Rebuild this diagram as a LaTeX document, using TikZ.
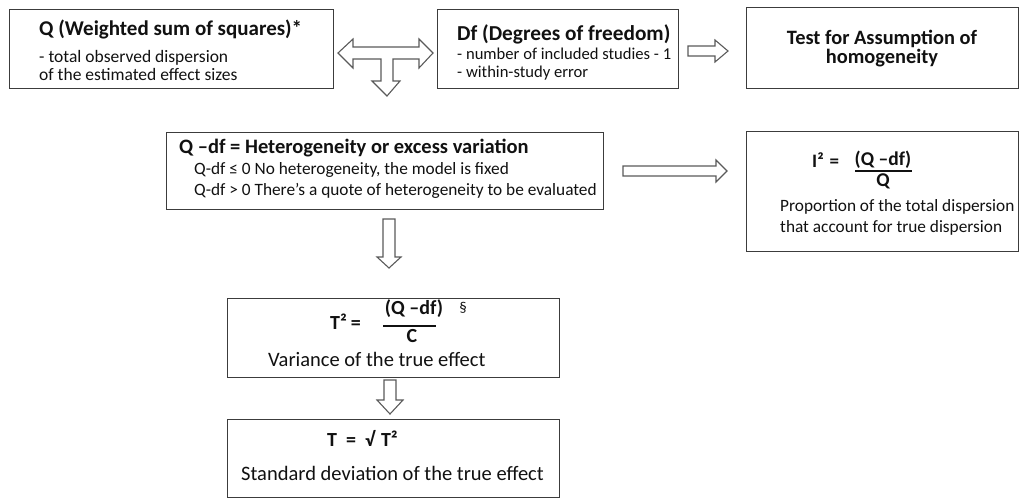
\documentclass[tikz,border=0pt]{standalone}
\usepackage{fontspec}
\setmainfont{Carlito}
\definecolor{boxgray}{HTML}{3C3C3C}
\definecolor{arrowgray}{HTML}{5A5A5A}
\definecolor{ink}{HTML}{111111}
\begin{document}
\begin{tikzpicture}[x=1pt,y=-1pt,
  box/.style={draw=boxgray, line width=1.2pt, fill=white, inner sep=0pt, anchor=north west},
  blockarrow/.style={draw=arrowgray, line width=1.1pt, fill=white, line join=miter},
  fracbar/.style={draw=ink, line width=1.4pt},
  ttl/.style={text=ink, font=\bfseries\fontsize{20}{22}\selectfont, inner sep=0pt, anchor=base west},
  ttlc/.style={ttl, anchor=base},
  txt/.style={text=ink, font=\fontsize{17.3}{19}\selectfont, inner sep=0pt, anchor=base west},
  bigtxt/.style={txt, font=\fontsize{20.5}{22}\selectfont},
]
\useasboundingbox (0,0) rectangle (1020,498);
\fill[white] (0,0) rectangle (1020,498);

% boxes
\node[box, minimum width=324pt, minimum height=79pt] (qbox) at (9,9) {};
\node[box, minimum width=241pt, minimum height=79pt] (dfbox) at (437,9) {};
\node[box, minimum width=272pt, minimum height=81pt] (testbox) at (746,7) {};
\node[box, minimum width=437pt, minimum height=77pt] (qdfbox) at (166,132) {};
\node[box, minimum width=272pt, minimum height=120pt] (ibox) at (746,131) {};
\node[box, minimum width=332pt, minimum height=79pt] (t2box) at (227,298) {};
\node[box, minimum width=332pt, minimum height=78pt] (tbox) at (227,419) {};

% Q box
\node[ttl, font=\bfseries\fontsize{21}{23}\selectfont] (qt) at (39,35) {Q (Weighted sum of squares)*};
\node[txt, font=\fontsize{17.5}{19}\selectfont] (q1) at (39,62.7) {- total observed dispersion};
\node[txt, font=\fontsize{17.5}{19}\selectfont] (q2) at (39,80) {of the estimated effect sizes};

% Df box
\node[ttl, font=\bfseries\fontsize{21.3}{23}\selectfont] (dft) at (457,40.5) {Df (Degrees of freedom)};
\node[txt, font=\fontsize{16.6}{18}\selectfont] (df1) at (457,59) {- number of included studies - 1};
\node[txt, font=\fontsize{16.6}{18}\selectfont] (df2) at (457,77) {- within-study error};

% Test box
\node[ttlc, font=\bfseries\fontsize{20.4}{22}\selectfont] (tt1) at (882,44) {Test for Assumption of};
\node[ttlc, font=\bfseries\fontsize{20.4}{22}\selectfont] (tt2) at (882,63) {homogeneity};

% Q-df box
\node[ttl, font=\bfseries\fontsize{20.5}{22}\selectfont] (qdft) at (179,153) {Q –df = Heterogeneity or excess variation};
\node[txt] (qdf1) at (194,174) {Q-df ≤ 0 No heterogeneity, the model is fixed};
\node[txt] (qdf2) at (194,195) {Q-df > 0 There’s a quote of heterogeneity to be evaluated};

% I^2 box
\node[ttl, font=\bfseries\fontsize{19}{21}\selectfont] (ieq) at (812,167) {I²\hspace{6pt}=};
\node[ttlc, font=\bfseries\fontsize{19.5}{21}\selectfont] (inum) at (883,165) {(Q –df)};
\draw[fracbar] (855,171) -- (912,171);
\node[ttlc, font=\bfseries\fontsize{19.5}{21}\selectfont] (iden) at (883,186) {Q};
\node[txt] (i1) at (780,211) {Proportion of the total dispersion};
\node[txt] (i2) at (780,232) {that account for true dispersion};

% T^2 box
\node[ttl] (t2eq) at (330,329) {T²\hspace{4pt}=};
\node[ttlc] (t2num) at (414,314) {(Q –df)};
\draw[fracbar] (383,326) -- (436,326);
\node[ttlc] (t2den) at (412,342) {C};
\node[txt, font=\fontsize{15}{17}\selectfont, anchor=base] (sect) at (463,312) {§};
\node[bigtxt] (t2l) at (268,366) {Variance of the true effect};

% T box
\node[ttl] (teq) at (327,446) {T\hspace{9pt}=\hspace{9pt}√\hspace{6pt}T²};
\node[bigtxt] (tl) at (241,480) {Standard deviation of the true effect};

% block arrows
\draw[blockarrow] (338,53) -- (353,39) -- (353,47) -- (419,47) -- (419,39) -- (433,53)
  -- (419,68) -- (419,59) -- (393,59) -- (393,81) -- (400,81) -- (387,96) -- (372,81)
  -- (381,81) -- (381,59) -- (353,59) -- (353,68) -- cycle;
\draw[blockarrow] (688,46) -- (715,46) -- (715,40) -- (728,51) -- (715,62) -- (715,56) -- (688,56) -- cycle;
\draw[blockarrow] (623,166) -- (716,166) -- (716,160) -- (727,171) -- (716,182) -- (716,176) -- (623,176) -- cycle;
\draw[blockarrow] (383,219) -- (395,219) -- (395,257) -- (401,257) -- (389,268) -- (377,257) -- (383,257) -- cycle;
\draw[blockarrow] (384,380) -- (396,380) -- (396,400) -- (403,400) -- (390,414) -- (377,400) -- (384,400) -- cycle;
\end{tikzpicture}
\end{document}
